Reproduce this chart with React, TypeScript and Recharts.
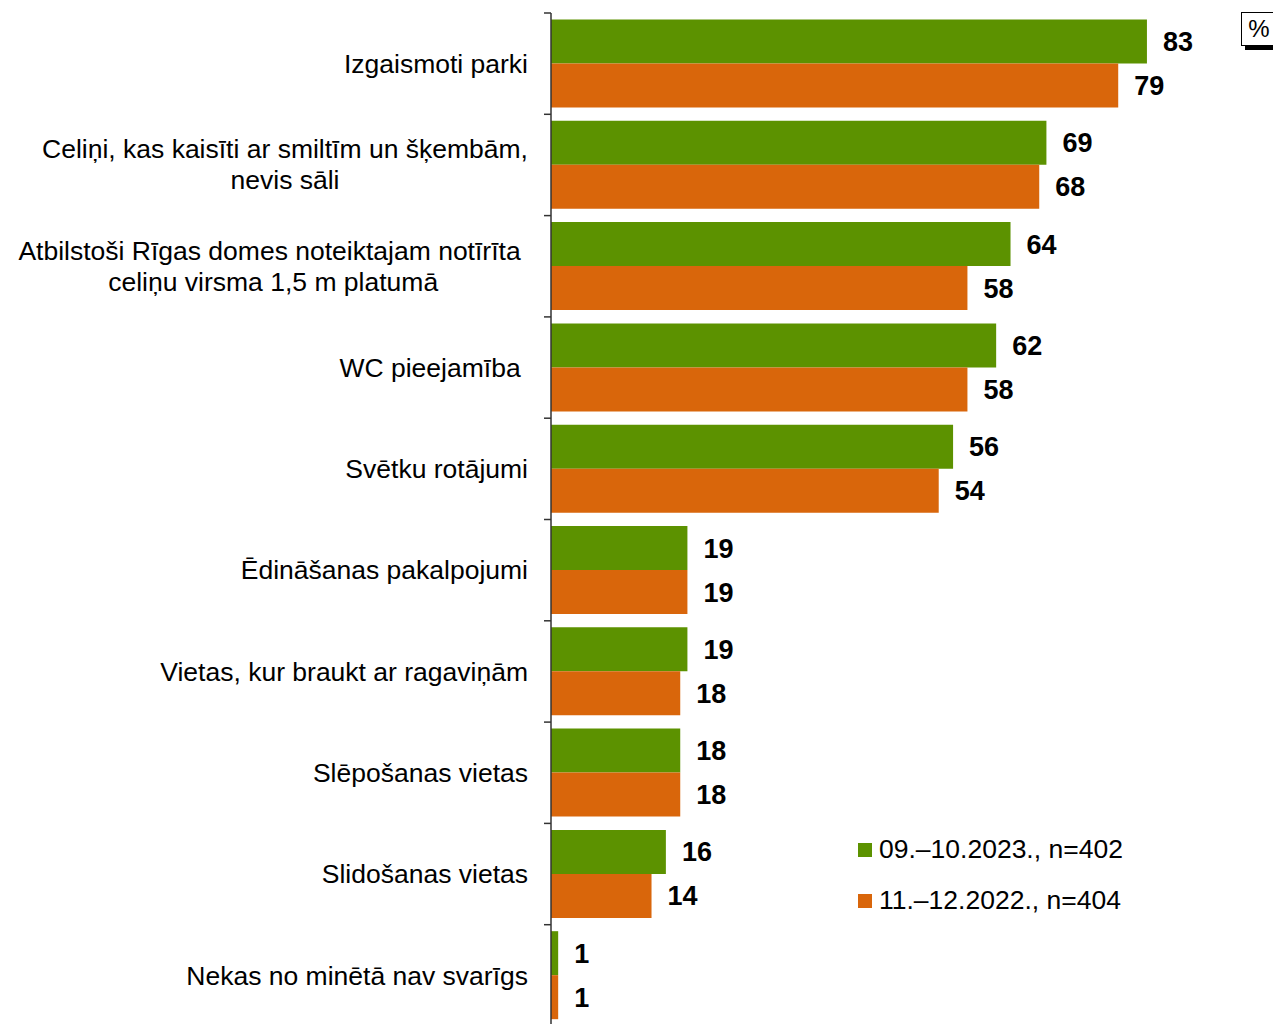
import React from "react";
import { BarChart, Bar, XAxis, YAxis, LabelList } from "recharts";

const categories = [
  "Izgaismoti parki",
  "Celiņi, kas kaisīti ar smiltīm un šķembām,\nnevis sāli",
  "Atbilstoši Rīgas domes noteiktajam notīrīta\u00A0\nceliņu virsma 1,5 m platumā",
  "WC pieejamība\u00A0",
  "Svētku rotājumi",
  "Ēdināšanas pakalpojumi",
  "Vietas, kur braukt ar ragaviņām",
  "Slēpošanas vietas",
  "Slidošanas vietas",
  "Nekas no minētā nav svarīgs",
];
const s2023 = [83, 69, 64, 62, 56, 19, 19, 18, 16, 1];
const s2022 = [79, 68, 58, 58, 54, 19, 18, 18, 14, 1];
const seriesNames = ["09.–10.2023., n=402", "11.–12.2022., n=404"];

const GREEN = "#5c9200";
const ORANGE = "#d9660b";
const FONT = "Arial, 'Liberation Sans', sans-serif";

const data = categories.map((name, i) => ({ name, a: s2023[i], b: s2022[i] }));

const W = 1273;
const H = 1030;
const M = { top: 5, right: 12, bottom: 12, left: 0 };
const YW = 543;
const BAND = (H - M.top - M.bottom) / categories.length;
const FS = 26.5;

let ctx: CanvasRenderingContext2D | null = null;
function measure(t: string) {
  if (!ctx) {
    ctx = document.createElement("canvas").getContext("2d");
    if (ctx) ctx.font = `${FS}px Arial, 'Liberation Sans', sans-serif`;
  }
  return ctx ? ctx.measureText(t).width : t.length * 13;
}

function CatTick(props: any) {
  const { y, payload } = props;
  const lines: string[] = String(payload.value).split("\n");
  const right = YW - 23;
  const tickY = y - BAND / 2;
  let body;
  if (lines.length === 1) {
    body = (
      <text x={right} y={y} dy="0.35em" textAnchor="end" fontSize={FS} fontFamily={FONT} fill="#000" style={{ whiteSpace: "pre" }}>
        {lines[0]}
      </text>
    );
  } else {
    const maxW = Math.max(...lines.map(measure));
    const cx = right - maxW / 2;
    body = (
      <text x={cx} y={y} textAnchor="middle" fontSize={FS} fontFamily={FONT} fill="#000" style={{ whiteSpace: "pre" }}>
        {lines.map((l, i) => (
          <tspan key={i} x={cx} dy={i === 0 ? "-0.25em" : 31}>{l}</tspan>
        ))}
      </text>
    );
  }
  return (
    <g>
      <line x1={YW - 7} x2={YW} y1={tickY} y2={tickY} stroke="#333" strokeWidth={1.5} />
      {body}
    </g>
  );
}

function LegendBox() {
  const cols = [GREEN, ORANGE];
  return (
    <div style={{ position: "absolute", left: 850, top: 816, fontFamily: FONT, fontSize: FS, color: "#000" }}>
      {seriesNames.map((n, i) => (
        <div key={n} style={{ display: "flex", alignItems: "center", height: 51 }}>
          <span style={{ width: 14, height: 14, background: cols[i], display: "inline-block", marginRight: 7 }} />
          <span>{n}</span>
        </div>
      ))}
    </div>
  );
}

export default function App() {
  return (
    <div style={{ position: "relative", width: W, height: H }}>
      <BarChart width={W} height={H} data={data} layout="vertical" margin={M} barCategoryGap="6.4%" barGap={0}>
        <XAxis type="number" domain={[0, 100]} hide />
        <YAxis
          type="category"
          dataKey="name"
          width={YW}
          tickLine={false}
          tickSize={7}
          tickMargin={16}
          axisLine={{ stroke: "#333", strokeWidth: 1.5 }}
          tick={<CatTick />}
          interval={0}
        />
        <Bar dataKey="a" name={seriesNames[0]} fill={GREEN} isAnimationActive={false}>
          <LabelList dataKey="a" position="right" offset={16} fill="#000" fontSize={27} fontWeight="bold" fontFamily={FONT} />
        </Bar>
        <Bar dataKey="b" name={seriesNames[1]} fill={ORANGE} isAnimationActive={false}>
          <LabelList dataKey="b" position="right" offset={16} fill="#000" fontSize={27} fontWeight="bold" fontFamily={FONT} />
        </Bar>
      </BarChart>
      <LegendBox />
      <div
        style={{
          position: "absolute",
          left: 1233,
          top: 4,
          width: 34,
          height: 32,
          border: "1px solid #000",
          background: "#fff",
          boxShadow: "4px 4px 0 #000",
          fontFamily: FONT,
          fontSize: 24,
          textAlign: "center",
          lineHeight: "32px",
        }}
      >
        %
      </div>
    </div>
  );
}
